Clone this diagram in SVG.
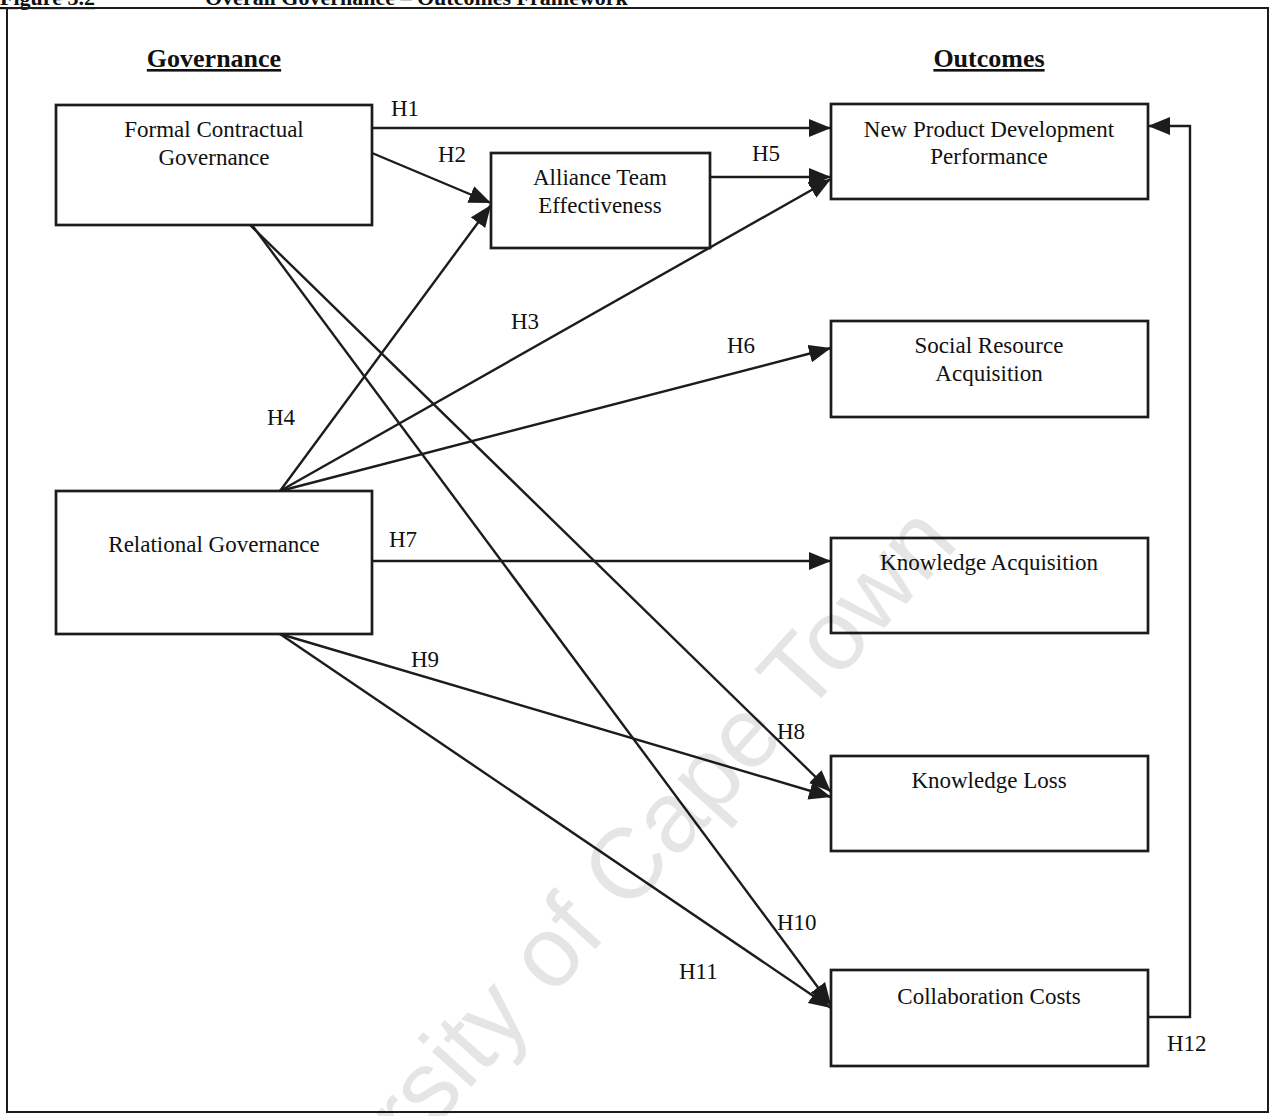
<svg xmlns="http://www.w3.org/2000/svg" width="1274" height="1116" viewBox="0 0 1274 1116">
  <style>
    .box { fill: #ffffff; stroke: #1c1c1c; stroke-width: 2.7; }
    .lbl { font-family: "Liberation Serif", "Times New Roman", serif; font-size: 23px; fill: #111111; }
    .ctr { text-anchor: middle; }
    .head { font-family: "Liberation Serif", "Times New Roman", serif; font-size: 26px; font-weight: bold; fill: #111111; text-anchor: middle; text-decoration: underline; }
    .edge { fill: none; stroke: #1c1c1c; stroke-width: 2.4; marker-end: url(#arr); }
    .wm { font-family: "Liberation Sans", Arial, sans-serif; font-size: 100px; fill: #000000; fill-opacity: 0.1; }
    .title { font-family: "Liberation Serif", "Times New Roman", serif; font-size: 22px; font-weight: bold; fill: #111111; }
  </style>
  <defs>
    <marker id="arr" markerUnits="userSpaceOnUse" markerWidth="24" markerHeight="20" refX="22" refY="9" orient="auto">
      <path d="M0,0 L22,9 L0,18 z" fill="#1c1c1c"/>
    </marker>
  </defs>
  <rect x="0" y="0" width="1274" height="1116" fill="#ffffff"/>

  <!-- clipped title -->
  <text class="title" x="0" y="5"><tspan text-decoration="underline">Figure 3.2</tspan></text>
  <text class="title" x="205" y="5">Overall Governance – Outcomes Framework</text>

  <!-- outer frame -->
  <rect x="7" y="8" width="1261" height="1104" fill="none" stroke="#1c1c1c" stroke-width="2"/>

  <!-- headings -->
  <text class="head" x="214" y="67">Governance</text>
  <text class="head" x="989" y="67">Outcomes</text>

  <!-- connectors -->
  <g id="connectors">
    <line class="edge" x1="372" y1="128" x2="831" y2="128"/>
    <line class="edge" x1="372" y1="153" x2="491" y2="203"/>
    <line class="edge" x1="710" y1="177" x2="831" y2="177"/>
    <line class="edge" x1="280" y1="491" x2="831" y2="179"/>
    <line class="edge" x1="280" y1="491" x2="491" y2="205"/>
    <line class="edge" x1="280" y1="491" x2="831" y2="348"/>
    <line class="edge" x1="372" y1="561" x2="831" y2="561"/>
    <line class="edge" x1="250" y1="225" x2="831" y2="792"/>
    <line class="edge" x1="280" y1="634" x2="831" y2="797"/>
    <line class="edge" x1="252" y1="225" x2="831" y2="1005"/>
    <line class="edge" x1="280" y1="634" x2="831" y2="1008"/>
    <polyline class="edge" points="1148,1017 1190,1017 1190,126 1148,126"/>
    <text class="lbl" x="391" y="116">H1</text>
    <text class="lbl" x="438" y="162">H2</text>
    <text class="lbl" x="752" y="161">H5</text>
    <text class="lbl" x="511" y="329">H3</text>
    <text class="lbl" x="267" y="425">H4</text>
    <text class="lbl" x="727" y="353">H6</text>
    <text class="lbl" x="389" y="547">H7</text>
    <text class="lbl" x="411" y="667">H9</text>
    <text class="lbl" x="777" y="739">H8</text>
    <text class="lbl" x="777" y="930">H10</text>
    <text class="lbl" x="679" y="979">H11</text>
    <text class="lbl" x="1167" y="1051">H12</text>
  </g>

  <!-- nodes -->
  <g id="formal">
    <rect class="box" x="56" y="105" width="316" height="120"/>
    <text class="lbl ctr" x="214" y="137">Formal Contractual</text>
    <text class="lbl ctr" x="214" y="165">Governance</text>
  </g>
  <g id="relational">
    <rect class="box" x="56" y="491" width="316" height="143"/>
    <text class="lbl ctr" x="214" y="552">Relational Governance</text>
  </g>
  <g id="alliance">
    <rect class="box" x="491" y="153" width="219" height="95"/>
    <text class="lbl ctr" x="600" y="185">Alliance Team</text>
    <text class="lbl ctr" x="600" y="213">Effectiveness</text>
  </g>
  <g id="npd">
    <rect class="box" x="831" y="104" width="317" height="95"/>
    <text class="lbl ctr" x="989" y="137">New Product Development</text>
    <text class="lbl ctr" x="989" y="164">Performance</text>
  </g>
  <g id="social">
    <rect class="box" x="831" y="321" width="317" height="96"/>
    <text class="lbl ctr" x="989" y="353">Social Resource</text>
    <text class="lbl ctr" x="989" y="381">Acquisition</text>
  </g>
  <g id="knowacq">
    <rect class="box" x="831" y="538" width="317" height="95"/>
    <text class="lbl ctr" x="989" y="570">Knowledge Acquisition</text>
  </g>
  <g id="knowloss">
    <rect class="box" x="831" y="756" width="317" height="95"/>
    <text class="lbl ctr" x="989" y="788">Knowledge Loss</text>
  </g>
  <g id="collab">
    <rect class="box" x="831" y="970" width="317" height="96"/>
    <text class="lbl ctr" x="989" y="1004">Collaboration Costs</text>
  </g>

  <!-- watermark (on top, faint) -->
  <text class="wm" transform="translate(240,1344) rotate(-48)">University of Cape Town</text>
</svg>
